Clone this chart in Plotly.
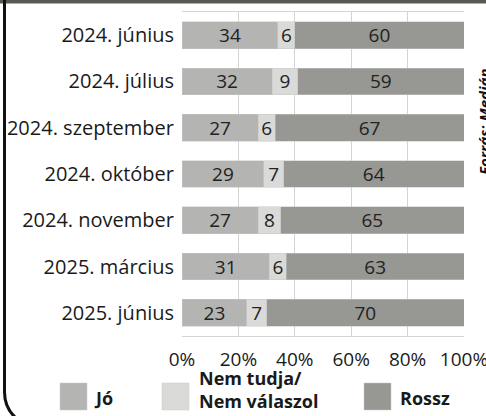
import plotly.graph_objects as go

categories = ["2024. június", "2024. július", "2024. szeptember", "2024. október",
              "2024. november", "2025. március", "2025. június"]
jo = [34, 32, 27, 29, 27, 31, 23]
nem_tudja = [6, 9, 6, 7, 8, 6, 7]
rossz = [60, 59, 67, 64, 65, 63, 70]
series_names = ["Jó", "Nem tudja/<br>Nem válaszol", "Rossz"]
colors = ["#b4b4b2", "#dadad8", "#979793"]
x_ticks = [0, 20, 40, 60, 80, 100]
x_tick_labels = ["0%", "20%", "40%", "60%", "80%", "100%"]

W, H = 486, 416
L, R, T, B = 182, 22, 12, 80
PW, PH = W - L - R, H - T - B

def px(x):
    return (x - L) / PW

def py(y):
    return (H - B - y) / PH

FONT = "Open Sans, Lato, sans-serif"

fig = go.Figure()
for vals, name, col in zip([jo, nem_tudja, rossz], series_names, colors):
    fig.add_trace(go.Bar(
        y=categories, x=vals, orientation="h", name=name,
        marker=dict(color=col, line=dict(color="#c8c8c6", width=0.5)),
        text=[str(v) for v in vals], texttemplate="%{text}", textposition="inside",
        insidetextanchor="middle", constraintext="none", textangle=0,
        textfont=dict(size=19, color="#222222", family=FONT),
        showlegend=False, hoverinfo="skip",
    ))

shapes = []
shapes.append(dict(type="rect", xref="paper", yref="paper",
                   x0=px(0), x1=px(W), y0=py(0), y1=py(3.5),
                   fillcolor="#5a5a55", line=dict(width=0), layer="above"))
path = "M {x0},{y0} L {x0},{y1} Q {x0},{y2} {x3},{y3}".format(
    x0=px(4.5), y0=py(0), y1=py(392), y2=py(408), x3=px(16), y3=py(418))
shapes.append(dict(type="path", xref="paper", yref="paper", path=path,
                   line=dict(color="#111111", width=3)))

legend_sq = [(60, 87), (162, 189), (364, 391)]
annotations = []
for (x0, x1), col in zip(legend_sq, colors):
    shapes.append(dict(type="rect", xref="paper", yref="paper",
                       x0=px(x0), x1=px(x1), y0=py(383), y1=py(410),
                       fillcolor=col, line=dict(color="#c8c8c6", width=0.5)))
legend_text_x = [92, 197, 398]
legend_text_y = [398, 389, 398]
for tx, ty, name in zip(legend_text_x, legend_text_y, series_names):
    annotations.append(dict(xref="paper", yref="paper", x=px(tx), y=py(ty),
                            xanchor="left", yanchor="middle", showarrow=False,
                            text="<b>" + name + "</b>", align="left",
                            font=dict(size=18, color="#1a1a1a", family=FONT)))

annotations.append(dict(xref="paper", yref="paper", x=px(484), y=py(122),
                        xanchor="center", yanchor="middle", showarrow=False,
                        textangle=-90, text="<b><i>Forrás: Medián</i></b>",
                        font=dict(size=15, color="#111111", family=FONT)))

fig.update_layout(
    barmode="stack", bargap=0.42,
    width=W, height=H,
    margin=dict(l=L, r=R, t=T, b=B, pad=0, autoexpand=False),
    paper_bgcolor="white", plot_bgcolor="white",
    font=dict(family=FONT, size=18, color="#1a1a1a"),
    shapes=shapes, annotations=annotations,
    xaxis=dict(range=[0, 100], tickvals=x_ticks, ticktext=x_tick_labels,
               automargin=False,
               showgrid=True, gridcolor="#d4d4d4", gridwidth=1,
               showline=True, linecolor="#d4d4d4", linewidth=1, mirror=True,
               zeroline=False, ticks="outside", ticklen=6,
               ticklabeloverflow="allow",
               tickcolor="rgba(0,0,0,0)", tickfont=dict(size=19, color="#1a1a1a")),
    yaxis=dict(autorange="reversed", showgrid=False, ticks="outside",
               automargin=False,
               ticklen=3, tickcolor="rgba(0,0,0,0)",
               showline=False, tickfont=dict(size=20, color="#1a1a1a")),
)

fig.write_html("out.html", config={"displayModeBar": False},
               post_script="document.body.style.margin='0';")
